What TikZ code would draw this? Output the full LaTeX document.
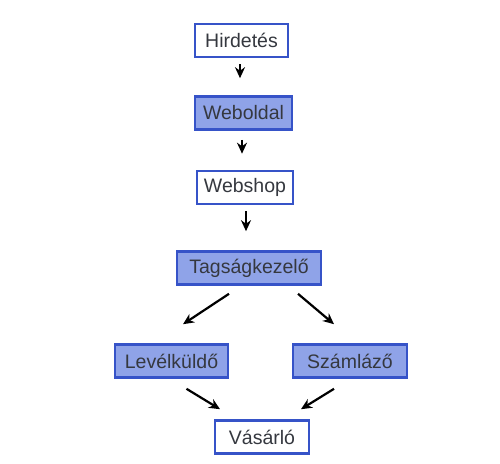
\documentclass[tikz,border=0pt]{standalone}
\usepackage{fontspec}
\setmainfont{Liberation Sans}
\usetikzlibrary{arrows.meta,calc}
\definecolor{boxline}{HTML}{3653C8}
\definecolor{boxfill}{HTML}{8FA3E8}
\definecolor{txt}{HTML}{35383F}
\tikzset{
  base/.style={draw=boxline, line width=2.6pt, text=txt, font=\fontsize{19.5}{22}\selectfont,
    minimum height=33pt, inner xsep=5pt, anchor=center},
  plain/.style={base, fill=white},
  filled/.style={base, fill=boxfill},
  arr/.style={-{Stealth[length=11pt,width=10pt]}, line width=2.2pt, black}
}
\begin{document}
\begin{tikzpicture}[x=1pt,y=-1pt]
\useasboundingbox (0,0) rectangle (500,463);
\node[plain, minimum width=93pt] (h) at (241.5,40.5) {Hirdetés};
\node[filled, minimum width=97pt] (w) at (243.5,113) {Weboldal};
\node[plain, minimum width=96pt] (s) at (245,187.5) {Webshop};
\node[filled, minimum width=144pt] (t) at (249,268) {Tagságkezelő};
\node[filled, minimum width=113pt] (l) at (171.5,361) {Levélküldő};
\node[filled, minimum width=114pt] (z) at (350,361) {Számláző};
\node[plain, minimum width=94pt] (v) at (262,437) {Vásárló};

\draw[arr] ([xshift=-1.5pt,yshift=-6pt]h.south) -- ([xshift=-3.5pt,yshift=17pt]w.north);
\draw[arr] ([xshift=-1.5pt,yshift=-9pt]w.south) -- ([xshift=-3pt,yshift=16pt]s.north);
\draw[arr] ([xshift=1pt,yshift=-6pt]s.south) -- ([xshift=-3pt,yshift=19pt]t.north);
\draw[arr] ([xshift=-20pt,yshift=-8pt]t.south) -- ([xshift=11.5pt,yshift=19pt]l.north);
\draw[arr] ([xshift=49pt,yshift=-8pt]t.south) -- ([xshift=-16pt,yshift=19pt]z.north);
\draw[arr] ([xshift=15pt,yshift=-10pt]l.south) -- ([xshift=-42pt,yshift=10pt]v.north);
\draw[arr] ([xshift=-16pt,yshift=-10pt]z.south) -- ([xshift=39pt,yshift=10pt]v.north);
\end{tikzpicture}
\end{document}
